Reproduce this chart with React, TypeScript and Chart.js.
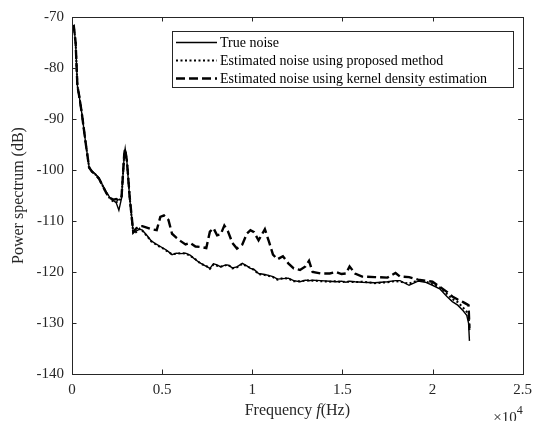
import React, { useEffect, useRef } from 'react';
import { Chart, registerables } from 'chart.js';

Chart.register(...registerables);

// ---- data ----
const freqHz = [
  0, 100, 200, 300, 400, 550, 750, 950, 1100, 1300, 1500, 1700, 1900, 2100, 2300, 2450, 2600, 2750, 2900, 2950,
  3050, 3200, 3400, 3550, 3750, 3900, 4150, 4400, 4700, 4900, 5100, 5350, 5550, 5800, 6050, 6300, 6550, 6850,
  7150, 7450, 7650, 7850, 8050, 8250, 8450, 8650, 8900, 9150, 9450, 9700, 9900, 10100, 10350, 10700, 10950,
  11150, 11400, 11700, 12000, 12300, 12650, 12950, 13150, 13350, 13800, 14300, 14650, 14950, 15200, 15400,
  15700, 16100, 16800, 17500, 17950, 18200, 18700, 19200, 19600, 20000, 20400, 20800, 21100, 21400, 21700,
  21900, 22000, 22050,
];

const trueNoiseDb = [
  -72, -71.7, -75, -83.5, -85.5, -89, -94.5, -99.5, -100.2, -100.8, -101.6, -103, -104.3, -105.4, -106, -106.4,
  -107.9, -105.5, -97, -95.8, -98.5, -105.5, -112.3, -112, -111.6, -111.8, -112.8, -113.9, -114.6, -115, -115.4,
  -116, -116.6, -116.3, -116.4, -116.3, -116.7, -117.6, -118.3, -118.9, -119.3, -118.4, -118.6, -119, -118.7,
  -118.6, -119.2, -119, -118.3, -118.8, -119.3, -119.5, -120.3, -120.5, -120.7, -120.9, -121.4, -121.3, -121.2,
  -121.7, -121.9, -121.6, -121.7, -121.6, -121.7, -121.8, -121.9, -121.8, -122, -121.8, -121.9, -122, -122.1,
  -121.9, -121.7, -121.7, -122.6, -121.8, -122, -122.6, -123.3, -124.8, -125.8, -126.5, -127.6, -128.5, -130,
  -133.5,
];

const proposedDb = [
  -72, -71.8, -75, -83.5, -85.5, -89, -94.5, -99.5, -100.3, -100.9, -101.7, -103.1, -104.5, -105.6, -106.2,
  -106.3, -106.2, -105.3, -96.8, -95.9, -98.3, -105.3, -112.5, -112.2, -111.5, -111.9, -112.9, -114, -114.7,
  -115.1, -115.5, -116.1, -116.5, -116.4, -116.3, -116.4, -116.8, -117.5, -118.4, -118.8, -119.4, -118.5,
  -118.8, -118.9, -118.8, -118.5, -119.3, -119.1, -118.4, -118.9, -119.2, -119.6, -120.4, -120.6, -120.8, -121,
  -121.5, -121.2, -121.3, -121.8, -121.8, -121.7, -121.6, -121.7, -121.8, -121.9, -121.8, -122, -121.9, -121.9,
  -122, -121.9, -122.2, -122, -121.8, -121.9, -122.3, -121.6, -121.8, -122.4, -123, -124.3, -125.3, -125.9,
  -127, -127.8, -128.5, -131.5,
];

const kdeDb = [
  -72, -71.8, -75, -83.5, -85.5, -89, -94.5, -99.5, -100.3, -100.9, -101.7, -103.1, -104.5, -105.5, -105.8,
  -105.7, -106, -105.2, -96.8, -95.9, -98.3, -105.3, -112.2, -111.5, -111, -111, -111.3, -111.6, -111.8, -109.2,
  -108.9, -109.8, -112.5, -113.3, -114, -114.6, -114.3, -115, -115.1, -115.3, -112.1, -111.4, -112.8, -112.6,
  -110.9, -112, -114.3, -115.4, -114.6, -112.5, -111.8, -112.2, -113.8, -111.6, -114.3, -116.6, -117.5, -116.9,
  -118.3, -119.3, -119.6, -118.9, -117.8, -120, -120.3, -120.3, -120, -120.4, -120.3, -118.9, -120.3, -120.9,
  -121, -121.1, -120.2, -120.9, -121, -121.5, -121.7, -121.9, -122.9, -123.9, -124.8, -125.4, -125.9, -126.3,
  -126.5, -131,
];

const xTickValues = [0, 5000, 10000, 15000, 20000, 25000];
const xTickLabels = ['0', '0.5', '1', '1.5', '2', '2.5'];
const yTickValues = [-70, -80, -90, -100, -110, -120, -130, -140];

const seriesLabels = [
  'True noise',
  'Estimated noise using proposed method',
  'Estimated noise using kernel density estimation',
];

const FONT = '"Liberation Serif", "Times New Roman", serif';
const AXIS_COLOR = '#262626';

const lineStyles = [
  { w: 1.4, dash: [] as number[] },
  { w: 2, dash: [2, 2.5] },
  { w: 2.4, dash: [9, 4] },
];

const decorPlugin = {
  id: 'decor',
  afterDraw(chart: any) {
    const { ctx, chartArea, scales } = chart;
    const { left, right, top, bottom } = chartArea;
    const xs = scales.x;
    const ys = scales.y;
    ctx.save();
    // frame
    ctx.strokeStyle = AXIS_COLOR;
    ctx.lineWidth = 1;
    ctx.strokeRect(Math.round(left) + 0.5, Math.round(top) + 0.5, Math.round(right - left), Math.round(bottom - top));
    // inward ticks
    const tl = 4.5;
    ctx.beginPath();
    xTickValues.forEach((v) => {
      const px = Math.round(xs.getPixelForValue(v)) + 0.5;
      ctx.moveTo(px, bottom);
      ctx.lineTo(px, bottom - tl);
      ctx.moveTo(px, top);
      ctx.lineTo(px, top + tl);
    });
    yTickValues.forEach((v) => {
      const py = Math.round(ys.getPixelForValue(v)) + 0.5;
      ctx.moveTo(left, py);
      ctx.lineTo(left + tl, py);
      ctx.moveTo(right, py);
      ctx.lineTo(right - tl, py);
    });
    ctx.stroke();

    // y title
    ctx.fillStyle = AXIS_COLOR;
    ctx.font = `16px ${FONT}`;
    ctx.textAlign = 'center';
    ctx.textBaseline = 'middle';
    ctx.save();
    ctx.translate(19, (top + bottom) / 2);
    ctx.rotate(-Math.PI / 2);
    ctx.fillText('Power spectrum (dB)', 0, 0);
    ctx.restore();

    // x title with italic f
    const parts = [
      { t: 'Frequency ', f: `16px ${FONT}` },
      { t: 'f', f: `italic 16px ${FONT}` },
      { t: '(Hz)', f: `16px ${FONT}` },
    ];
    let total = 0;
    parts.forEach((p) => {
      ctx.font = p.f;
      total += ctx.measureText(p.t).width;
    });
    let cx = (left + right) / 2 - total / 2;
    ctx.textAlign = 'left';
    ctx.textBaseline = 'middle';
    parts.forEach((p) => {
      ctx.font = p.f;
      ctx.fillText(p.t, cx, 411);
      cx += ctx.measureText(p.t).width;
    });

    // exponent label x10^4
    ctx.font = `12px ${FONT}`;
    const supW = ctx.measureText('4').width;
    ctx.font = `15px ${FONT}`;
    ctx.textAlign = 'right';
    ctx.textBaseline = 'middle';
    ctx.fillText('\u00d710', right - supW, 418);
    ctx.font = `12px ${FONT}`;
    ctx.textAlign = 'left';
    ctx.fillText('4', right - supW, 411);

    // legend
    const lx = 172, ly = 31, lw = 341, lh = 56;
    ctx.fillStyle = '#ffffff';
    ctx.fillRect(lx, ly, lw, lh);
    ctx.strokeStyle = AXIS_COLOR;
    ctx.lineWidth = 1;
    ctx.strokeRect(lx + 0.5, ly + 0.5, lw, lh);
    const rows = [42.5, 60.5, 78.5];
    chart.data.datasets.forEach((ds: any, i: number) => {
      ctx.strokeStyle = '#000';
      ctx.lineWidth = lineStyles[i].w;
      ctx.setLineDash(lineStyles[i].dash);
      ctx.beginPath();
      ctx.moveTo(176, rows[i]);
      ctx.lineTo(217, rows[i]);
      ctx.stroke();
      ctx.setLineDash([]);
      ctx.fillStyle = '#000';
      ctx.font = `14px ${FONT}`;
      ctx.textAlign = 'left';
      ctx.textBaseline = 'middle';
      ctx.fillText(ds.label, 220, rows[i] + 0.5);
    });
    ctx.restore();
  },
};

export default function App() {
  const canvasRef = useRef<HTMLCanvasElement | null>(null);

  useEffect(() => {
    if (!canvasRef.current) return;
    const mk = (ys: number[]) => freqHz.map((f, i) => ({ x: f, y: ys[i] }));
    const seriesValues = [trueNoiseDb, proposedDb, kdeDb];
    const chart = new Chart(canvasRef.current, {
      type: 'line',
      data: {
        datasets: seriesValues.map((vals, i) => ({
          label: seriesLabels[i],
          data: mk(vals),
          borderColor: '#000',
          borderWidth: lineStyles[i].w,
          borderDash: lineStyles[i].dash,
          pointRadius: 0,
          tension: 0,
          fill: false,
        })),
      },
      options: {
        responsive: false,
        animation: false,
        layout: { padding: { left: 0, right: 11, top: 16, bottom: 0 } },
        plugins: { legend: { display: false }, tooltip: { enabled: false }, title: { display: false } },
        scales: {
          x: {
            type: 'linear',
            min: 0,
            max: 25000,
            afterBuildTicks: (scale: any) => {
              scale.ticks = xTickValues.map((v) => ({ value: v }));
            },
            afterFit: (scale: any) => {
              scale.height = 47;
            },
            grid: { display: false, drawTicks: false },
            border: { display: false },
            ticks: {
              autoSkip: false,
              maxRotation: 0,
              padding: 7,
              color: AXIS_COLOR,
              font: { family: FONT, size: 15 },
              callback: (v: any) => {
                const idx = xTickValues.indexOf(Number(v));
                return idx >= 0 ? xTickLabels[idx] : '';
              },
            },
          },
          y: {
            type: 'linear',
            min: -140,
            max: -70,
            afterBuildTicks: (scale: any) => {
              scale.ticks = yTickValues.map((v) => ({ value: v }));
            },
            afterFit: (scale: any) => {
              scale.width = 72;
            },
            grid: { display: false, drawTicks: false },
            border: { display: false },
            ticks: {
              autoSkip: false,
              padding: 8,
              color: AXIS_COLOR,
              font: { family: FONT, size: 15 },
              callback: (v: any) => String(v),
            },
          },
        },
      },
      plugins: [decorPlugin],
    });
    return () => chart.destroy();
  }, []);

  return (
    <div style={{ position: 'absolute', left: 0, top: 0, width: 539, height: 421, background: '#fff' }}>
      <canvas ref={canvasRef} width={539} height={421} style={{ display: 'block' }} />
    </div>
  );
}
